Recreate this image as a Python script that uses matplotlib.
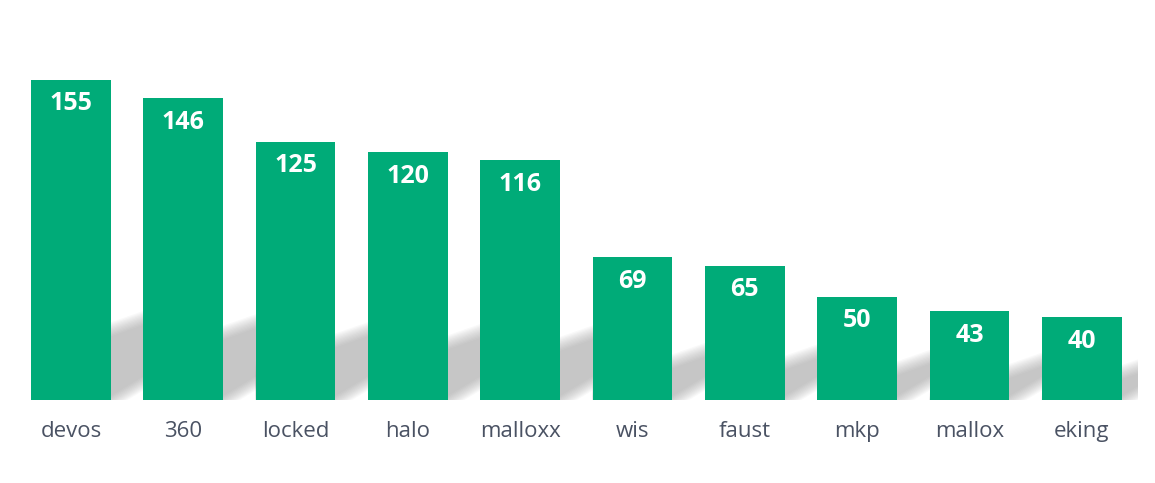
import matplotlib.pyplot as plt
from matplotlib.patches import Polygon

names = ["devos", "360", "locked", "halo", "malloxx", "wis", "faust", "mkp", "mallox", "eking"]
counts = [155, 146, 125, 120, 116, 69, 65, 50, 43, 40]

bar_color = "#00AB78"
label_color = "#4A5263"

W, H = 1155, 483
fig = plt.figure(figsize=(W / 100, H / 100), dpi=100)
ax = fig.add_axes([14.75 / W, (H - 400) / H, (1138 - 14.75) / W, 372 / H])

x = list(range(len(names)))
bar_w = 0.71
ax.bar(x, counts, width=bar_w, color=bar_color, zorder=3)

ymax = 180
ax.set_xlim(-0.5, len(names) - 0.5)
ax.set_ylim(0, ymax)

# slanted soft shadow behind bars, built in pixel units then mapped to data
ux = 1 / 112.4          # data units per px along x
uy = ymax / 372         # data units per px along y
n_layers = 12
for xi, v in zip(x, counts):
    h_px = v / uy
    band = 0.18 * h_px + 12
    L = xi - bar_w / 2
    R = xi + bar_w / 2
    wpx = (R - L) / ux
    D = 80
    for k in range(n_layers):
        s = 14 * k / (n_layers - 1)
        pts_px = [(0, 4 - s), (wpx, 4 - s),
                  (wpx + D, 4 + 0.6 * D - s),
                  (wpx + D, band - 6 + s + 0.35 * D),
                  (0, band - 6 + s - 0.35 * wpx)]
        pts = [(L + px * ux, py * uy) for px, py in pts_px]
        ax.add_patch(Polygon(pts, closed=True, facecolor="#999999",
                             edgecolor="none", alpha=0.06, zorder=1))

for xi, v in zip(x, counts):
    ax.annotate(str(v), (xi, v), xytext=(0, -17.5), textcoords="offset points",
                ha="center", va="center", color="white", fontsize=18,
                fontweight="bold", family="Open Sans", zorder=4)

ax.set_xticks(x)
ax.set_xticklabels(names, fontsize=16, color=label_color, family="Open Sans")
ax.tick_params(axis="x", length=0, pad=15)
ax.set_yticks([])
for s in ax.spines.values():
    s.set_visible(False)

fig.savefig("out.png", dpi=100)
